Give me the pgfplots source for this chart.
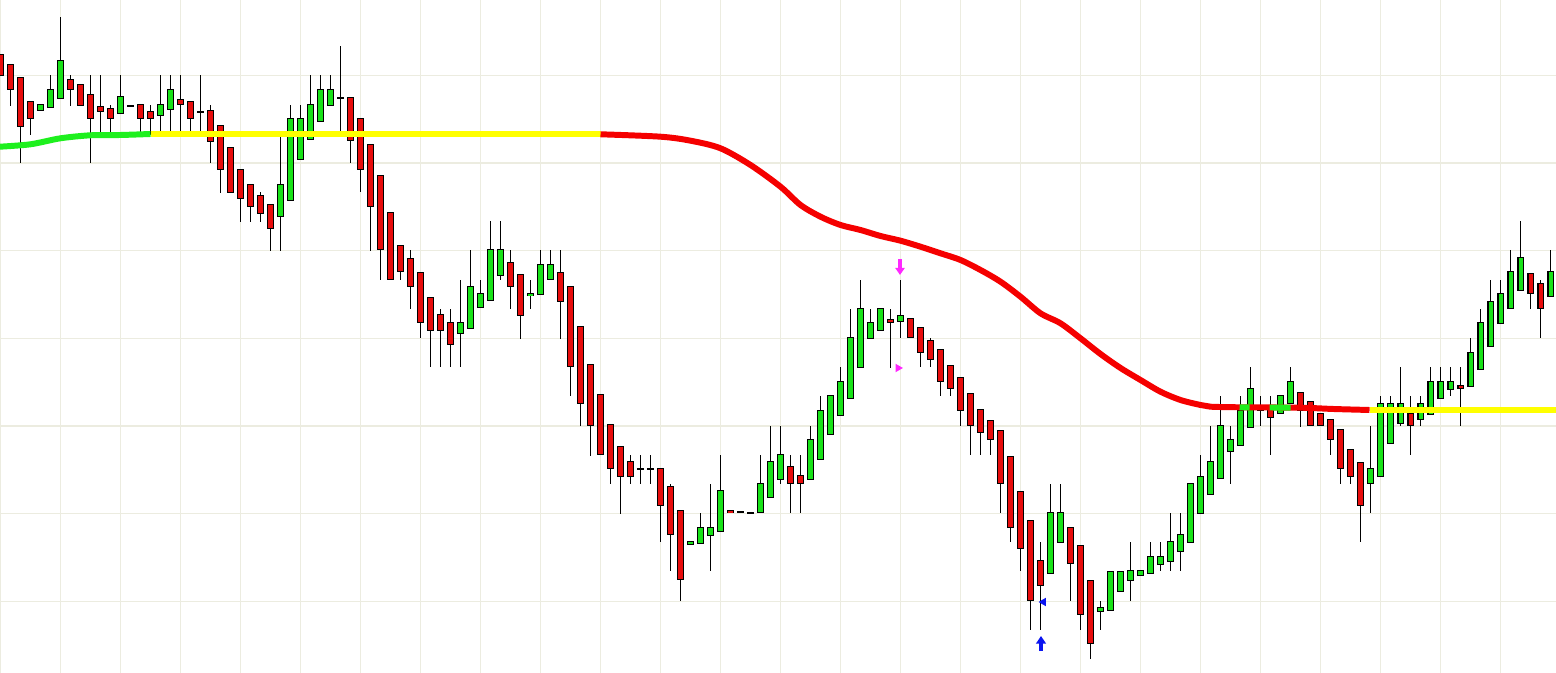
\documentclass[border=0pt]{standalone}
\usepackage{pgfplots}
\pgfplotsset{compat=1.18}
\usepackage{pgfplotstable}
\usetikzlibrary{arrows.meta}

\definecolor{upc}{RGB}{24,226,24}
\definecolor{dnc}{RGB}{232,12,12}
\definecolor{mared}{RGB}{245,0,0}
\definecolor{mayel}{RGB}{255,255,0}
\definecolor{magrn}{RGB}{30,240,30}
\definecolor{gridc}{RGB}{236,236,224}
\definecolor{sigm}{RGB}{255,40,255}
\definecolor{sigb}{RGB}{10,20,240}

% candles: index, high, body top, body bottom, low (y = image pixels, 0 at top)
\pgfplotstableread{
k hi top bot lo
4 105 105 111 111
5 75 90 108 108
6 17 61 99 99
12 75 97 114 114
16 75 105 116 135
17 75 90 110 135
28 137 185 217 251
29 105 119 201 201
30 105 119 160 160
31 75 105 140 140
32 75 90 122 122
33 75 90 106 106
46 280 323 334 367
47 250 287 329 329
48 280 294 308 308
49 221 250 301 301
50 221 250 276 280
53 280 294 296 309
54 250 265 295 295
55 250 265 280 280
69 542 542 545 545
70 513 528 544 544
71 484 528 536 571
72 455 491 532 532
76 455 484 513 513
77 426 462 498 498
78 426 455 480 484
81 426 440 480 480
82 396 411 460 460
83 396 396 435 435
84 367 382 416 416
85 309 338 399 399
86 280 309 368 368
87 309 323 339 339
88 309 309 331 331
90 280 316 322 338
105 484 513 573 573
106 484 513 543 543
110 601 608 612 630
111 571 571 610 610
112 571 571 591 591
113 542 571 581 601
114 571 571 576 576
115 542 557 574 574
116 542 557 565 571
117 513 542 561 571
118 513 535 552 571
119 484 484 543 543
120 455 477 514 514
121 426 462 495 495
122 396 426 479 479
123 426 440 452 484
124 396 411 446 446
125 367 389 428 428
128 396 396 414 414
129 367 382 404 404
137 426 469 484 513
138 396 404 477 477
139 396 404 444 444
140 367 404 424 426
142 396 404 420 426
143 367 382 415 415
144 367 382 399 399
145 367 382 390 396
147 338 353 387 387
148 309 323 370 370
149 280 302 347 347
150 280 294 324 324
151 250 272 309 309
152 221 258 291 291
155 250 272 297 297
}\bull

\pgfplotstableread{
k hi top bot lo
0 55 55 76 76
1 65 65 90 106
2 78 78 127 163
3 102 102 119 135
7 75 80 90 106
8 85 85 106 106
9 75 95 119 163
10 75 107 112 135
11 105 109 119 135
13 106 106 106 106
14 105 105 119 135
15 105 112 119 135
18 75 100 105 135
19 102 102 119 135
20 75 112 112 135
21 105 111 142 163
22 126 126 170 193
23 148 148 193 193
24 170 170 199 222
25 185 185 207 222
26 192 196 214 222
27 205 205 229 251
34 46 98 98 131
35 98 98 141 163
36 119 119 170 192
37 145 145 207 251
38 176 176 250 280
39 213 213 280 280
40 246 246 272 280
41 250 259 287 309
42 273 273 323 338
43 298 298 331 367
44 309 315 331 367
45 309 323 345 367
51 250 263 287 309
52 275 275 316 339
56 250 273 302 339
57 287 287 367 396
58 327 327 404 426
59 365 365 426 456
60 395 395 455 455
61 425 425 469 484
62 447 447 477 514
63 455 462 477 484
64 455 469 469 484
65 455 469 469 484
66 469 469 506 542
67 484 487 535 571
68 511 511 579 601
73 511 511 513 513
74 512 512 512 512
75 513 513 513 513
79 455 467 484 513
80 455 476 484 513
89 309 320 323 368
91 319 319 338 338
92 328 328 353 367
93 338 341 360 367
94 350 350 382 396
95 366 366 389 396
96 378 378 411 426
97 394 394 426 455
98 410 410 433 455
99 421 421 440 455
100 431 431 484 513
101 457 457 528 542
102 492 492 549 571
103 521 521 601 630
104 542 561 586 630
107 528 528 564 601
108 546 546 615 630
109 581 581 644 659
126 396 407 411 426
127 396 410 418 455
130 393 393 411 427
131 402 402 426 426
132 414 414 426 426
133 420 420 440 455
134 430 430 469 484
135 450 450 477 484
136 463 463 506 542
141 396 414 426 455
146 367 386 389 426
153 274 274 294 309
154 280 284 309 338
}\bear

\pgfplotsset{
  candle/.style={draw=none, mark=none, forget plot},
}

\begin{document}
\begin{tikzpicture}
\begin{axis}[
  scale only axis, width=15.56cm, height=6.73cm,
  xmin=-0.05, xmax=155.55, ymin=0, ymax=673, y dir=reverse,
  axis background/.style={fill=white},
  axis line style={draw=none},
  major tick length=0pt, xticklabels={}, yticklabels={},
  xtick={0,6,...,150},
  ytick={75.3,163,250.6,338.3,426,513.6,601.3},
  grid=major, major grid style={draw=gridc, line width=0.3pt},
  clip=true,
]
% wicks
\addplot[candle, error bars/.cd, y dir=both, y explicit, error mark=none,
  error bar style={draw=black, line width=0.35pt}]
  table[x=k, y expr={(\thisrow{hi}+\thisrow{lo})/2}, y error expr={(\thisrow{lo}-\thisrow{hi})/2}] {\bull};
\addplot[candle, error bars/.cd, y dir=both, y explicit, error mark=none,
  error bar style={draw=black, line width=0.35pt}]
  table[x=k, y expr={(\thisrow{hi}+\thisrow{lo})/2}, y error expr={(\thisrow{lo}-\thisrow{hi})/2}] {\bear};
% body outlines
\addplot[candle, error bars/.cd, y dir=both, y explicit, error mark=none,
  error bar style={draw=black, line width=1.75pt}]
  table[x=k, y expr={(\thisrow{top}+\thisrow{bot})/2}, y error expr={(\thisrow{bot}-\thisrow{top})/2+0.5}] {\bull};
\addplot[candle, error bars/.cd, y dir=both, y explicit, error mark=none,
  error bar style={draw=black, line width=1.75pt}]
  table[x=k, y expr={(\thisrow{top}+\thisrow{bot})/2}, y error expr={(\thisrow{bot}-\thisrow{top})/2+0.5}] {\bear};
% body fills
\addplot[candle, error bars/.cd, y dir=both, y explicit, error mark=none,
  error bar style={draw=upc, line width=1.15pt}]
  table[x=k, y expr={(\thisrow{top}+\thisrow{bot})/2}, y error expr={max((\thisrow{bot}-\thisrow{top})/2-0.5,0)}] {\bull};
\addplot[candle, error bars/.cd, y dir=both, y explicit, error mark=none,
  error bar style={draw=dnc, line width=1.15pt}]
  table[x=k, y expr={(\thisrow{top}+\thisrow{bot})/2}, y error expr={max((\thisrow{bot}-\thisrow{top})/2-0.5,0)}] {\bear};

% moving average, coloured by slope
\addplot[magrn, line width=1.7pt, line cap=butt, smooth] coordinates {
  (-0.05,146.7) (3,144.3) (6,138.3) (9,135.3) (12,135) (15,134)};
\addplot[mayel, line width=1.7pt, line cap=butt] coordinates {(15,134) (60,134)};
\addplot[mared, line width=1.7pt, line cap=butt, smooth, tension=0.5] coordinates {
  (60,134.3) (66,136.7) (69,140.7) (72,148.3) (75,165) (78,186.7) (80,205) (82,216.7)
  (84,225) (86,230) (88,236) (90,240.7) (92,246.7) (94,253.3) (96,260) (98,270)
  (100,281.7) (102,296.7) (104,313.3) (106,323.3) (108,338.3) (110,354) (112,368)
  (114,380) (116,391.7) (118,400) (120,405) (121,406.7) (124,407.3) (130,407.7)
  (133.3,409) (136.9,410)};
\addplot[magrn, line width=1.7pt, line cap=butt] coordinates {(123.9,407.3) (124.9,407.4)};
\addplot[magrn, line width=1.7pt, line cap=butt] coordinates {(126.9,407.5) (129,407.6)};
\addplot[mayel, line width=1.7pt, line cap=butt] coordinates {(136.9,410) (155.6,410)};

% signal markers
\addplot[sigm, line width=1.1pt, quiver={u=0, v=16}, -{Triangle[width=2.6pt, length=2pt]}]
  coordinates {(89.95,259)};
\addplot[sigb, line width=1.1pt, quiver={u=0, v=-15}, -{Triangle[width=2.8pt, length=2.2pt]}]
  coordinates {(104.05,651)};
\addplot[only marks, sigm, mark=triangle*, mark size=1pt, mark options={rotate=-90}]
  coordinates {(89.75,368)};
\addplot[only marks, sigb, mark=triangle*, mark size=1pt, mark options={rotate=90}]
  coordinates {(104.3,602)};
\end{axis}
\pgfresetboundingbox
\path[use as bounding box] (current axis.south west) rectangle (current axis.north east);
\end{tikzpicture}
\end{document}
